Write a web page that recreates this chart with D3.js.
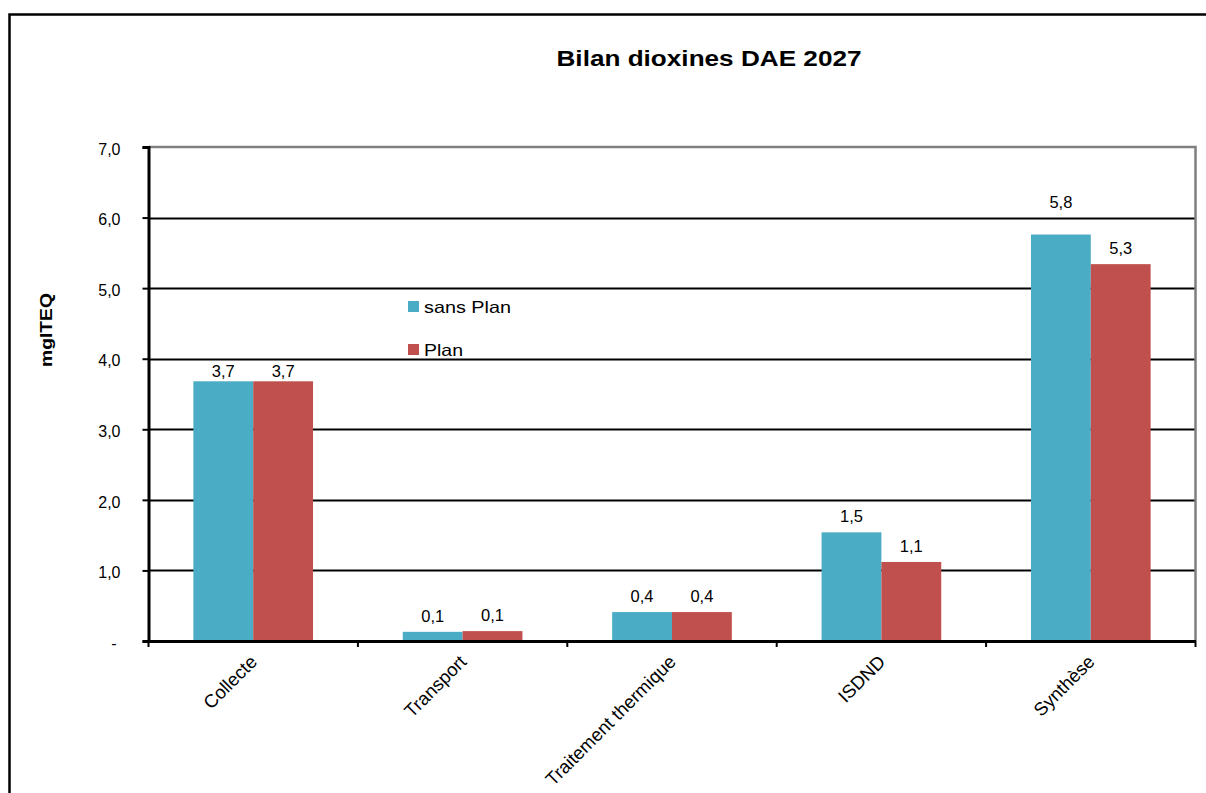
<!DOCTYPE html>
<html>
<head>
<meta charset="utf-8">
<script src="https://cdn.jsdelivr.net/npm/d3@7"></script>
<style>
  html, body { margin: 0; padding: 0; background: #fff; }
  svg { display: block; font-family: "Liberation Sans", Arial, sans-serif; }
</style>
</head>
<body>
<svg id="chart" width="1206" height="793"></svg>
<script>
// ---- Data ----
const categories = ["Collecte", "Transport", "Traitement thermique", "ISDND", "Synthèse"];
const seriesNames = ["sans Plan", "Plan"];
const sansPlan = [3.68, 0.13, 0.41, 1.54, 5.76];
const plan = [3.68, 0.14, 0.41, 1.12, 5.34];
const yTicks = [0, 1, 2, 3, 4, 5, 6, 7];
const yTickLabels = ["-", "1,0", "2,0", "3,0", "4,0", "5,0", "6,0", "7,0"];
const title = "Bilan dioxines DAE 2027";
const yTitle = "mgITEQ";

const colors = ["#4BACC6", "#C0504D"];
const seriesValues = [sansPlan, plan];

const svg = d3.select("#chart");

// outer border
svg.append("path")
  .attr("d", "M1210,14.5 H9.5 V800")
  .attr("fill", "none").attr("stroke", "#000").attr("stroke-width", 2.5);

const L = 148.5, R = 1195.5, T = 147, B = 641;

const x0 = d3.scaleBand().domain(categories).range([L, R]).padding(0);
const x1 = d3.scaleBand().domain(seriesNames).range([0, x0.bandwidth()])
  .paddingInner(0).paddingOuter(0.75);
const y = d3.scaleLinear().domain([0, 7]).range([B, T]);

// gridlines
svg.append("g").selectAll("line").data(yTicks.filter(d => d > 0 && d < 7)).join("line")
  .attr("x1", L).attr("x2", R)
  .attr("y1", d => Math.round(y(d)) + 0.5).attr("y2", d => Math.round(y(d)) + 0.5)
  .attr("stroke", "#000").attr("stroke-width", 2);

// plot area top/right border (gray)
svg.append("path")
  .attr("d", `M${L},${T} H${R} V${B}`)
  .attr("fill", "none").attr("stroke", "#7f7f7f").attr("stroke-width", 2.5);

// bars
const rows = categories.map((c, i) => ({ cat: c, vals: seriesNames.map((s, j) => ({ s, j, v: seriesValues[j][i], cat: c })) }));
const groups = svg.append("g").selectAll("g").data(rows).join("g")
  .attr("transform", d => `translate(${x0(d.cat)},0)`);
groups.selectAll("rect").data(d => d.vals).join("rect")
  .attr("x", d => x1(d.s)).attr("width", x1.bandwidth())
  .attr("y", d => y(d.v)).attr("height", d => y(0) - y(d.v))
  .attr("fill", d => colors[d.j]);

// value labels
const fmt = v => d3.format(".1f")(v).replace(".", ",");
const labelNudge = { "Collecte": [6, 6], "Synthèse": [-16, 0] };
groups.selectAll("text").data(d => d.vals).join("text")
  .attr("x", d => x1(d.s) + x1.bandwidth() / 2)
  .attr("y", d => y(d.v) - 16 + (labelNudge[d.cat] ? labelNudge[d.cat][d.j] : 0))
  .attr("dy", "0.35em")
  .attr("text-anchor", "middle")
  .attr("font-size", 16.5).attr("fill", "#000")
  .text(d => fmt(d.v));

// y axis
const yAxis = d3.axisLeft(y).tickValues(yTicks).tickSize(6).tickFormat((d, i) => yTickLabels[i]);
const ya = svg.append("g").attr("transform", `translate(${L},0)`).call(yAxis);
ya.select(".domain").attr("stroke", "#000").attr("stroke-width", 3);
ya.selectAll(".tick line").attr("stroke", "#000").attr("stroke-width", 2);
ya.selectAll(".tick text").attr("font-size", 16).attr("font-family", "Liberation Sans, Arial, sans-serif")
  .attr("x", d => d === 0 ? -32 : -28).attr("dy", "0.45em").attr("fill", "#000");

// x axis
const xAxis = d3.axisBottom(x0).tickSize(0).tickFormat("");
const xa = svg.append("g").attr("transform", `translate(0,${B})`).call(xAxis);
xa.select(".domain").attr("stroke", "#000").attr("stroke-width", 3);
xa.selectAll(".tick").remove();
const xTickPos = d3.range(categories.length + 1).map(i => L + i * x0.step());
svg.append("g").selectAll("line").data(xTickPos).join("line")
  .attr("x1", d => d).attr("x2", d => d).attr("y1", B).attr("y2", B + 6)
  .attr("stroke", "#000").attr("stroke-width", 2);

// x category labels
svg.append("g").selectAll("text").data(categories).join("text")
  .attr("transform", d => `translate(${x0(d) + x0.bandwidth() / 2 + 5},${B + 22}) rotate(-45)`)
  .attr("text-anchor", "end")
  .attr("font-size", 18.5).attr("fill", "#000")
  .text(d => d);

// title
svg.append("text")
  .attr("x", 709).attr("y", 58).attr("dy", "0.35em")
  .attr("text-anchor", "middle")
  .attr("font-size", 22.5).attr("font-weight", "bold")
  .attr("textLength", 305).attr("lengthAdjust", "spacingAndGlyphs")
  .text(title);

// y title
svg.append("text")
  .attr("transform", "translate(46,330) rotate(-90)")
  .attr("text-anchor", "middle").attr("dy", "0.35em")
  .attr("font-size", 16.5).attr("font-weight", "bold")
  .attr("textLength", 74).attr("lengthAdjust", "spacingAndGlyphs")
  .text(yTitle);

// legend
const legend = svg.append("g").selectAll("g").data(seriesNames).join("g")
  .attr("transform", (d, i) => `translate(408,${301 + i * 43})`);
legend.append("rect").attr("width", 11).attr("height", 11).attr("fill", (d, i) => colors[i]);
legend.append("text")
  .attr("x", 16).attr("y", 6).attr("dy", "0.35em")
  .attr("font-size", 16.5)
  .attr("textLength", (d, i) => i === 0 ? 87 : 39).attr("lengthAdjust", "spacingAndGlyphs")
  .text(d => d);
</script>
</body>
</html>
